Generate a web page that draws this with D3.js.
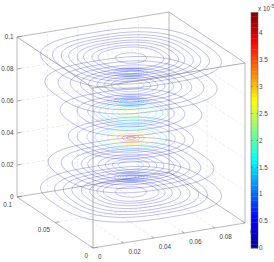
<!DOCTYPE html>
<html>
<head>
<meta charset="utf-8">
<script src="https://cdn.jsdelivr.net/npm/d3@7"></script>
<style>
	html, body { margin: 0; padding: 0; background: #fff; overflow: hidden; }
	text { font-family: "Liberation Sans", Arial, sans-serif; font-size: 6.3px; fill: #444; }
</style>
</head>
<body>
<div id="chart"></div>
<script>
const xTicks = [0, 0.02, 0.04, 0.06, 0.08, 0.1];
const yTicks = [0, 0.05, 0.1];
const zTicks = [0, 0.02, 0.04, 0.06, 0.08, 0.1];
const barTicks = [0, 0.5, 1, 1.5, 2, 2.5, 3, 3.5, 4];
const barMax = 4.38;

// contour slices, bottom to top
const sliceZ = [0.0113, 0.028, 0.045, 0.061, 0.078, 0.095];
const sliceRadii = [
	[0.0497, 0.0423, 0.0377, 0.0331, 0.028, 0.0234, 0.0194, 0.016, 0.0091],
	[0.0457, 0.0388, 0.033, 0.028, 0.0245, 0.0188, 0.0148, 0.0108, 0.0074],
	[0.035, 0.0303, 0.025, 0.0205, 0.017, 0.0136, 0.011, 0.008, 0.005, 0.0026],
	[0.0394, 0.0303, 0.0245, 0.0211, 0.0182, 0.0148, 0.0108, 0.008, 0.0045],
	[0.0474, 0.0405, 0.034, 0.0285, 0.024, 0.0194, 0.0154, 0.0114, 0.0074],
	[0.0497, 0.0434, 0.0388, 0.0348, 0.0303, 0.0268, 0.0222, 0.0188, 0.0091]
];
// values in units of 1e-5
const sliceValues = [
	[0.1, 0.15, 0.2, 0.25, 0.3, 0.35, 0.4, 0.45, 0.5],
	[0.1, 0.2, 0.3, 0.4, 0.5, 0.6, 0.7, 0.8, 1],
	[0.3, 0.6, 0.9, 1.3, 1.8, 2.3, 2.8, 3.2, 3.6, 4],
	[0.2, 0.4, 0.7, 1, 1.3, 1.6, 1.9, 2.2, 2.5],
	[0.1, 0.2, 0.3, 0.4, 0.5, 0.6, 0.7, 0.8, 1],
	[0.1, 0.15, 0.2, 0.25, 0.3, 0.35, 0.4, 0.45, 0.5]
];

// tight little clusters between the main slices
const clusterZ = [0.0206, 0.068, 0.086];
const clusterRadii = [0.0095, 0.0075, 0.006, 0.0045, 0.003];
const clusterValues = [0.8, 0.9, 0.8];

const jetStops = [0, 0.125, 0.375, 0.625, 0.875, 1];
const jetColors = ["#00008f", "#0000ff", "#00ffff", "#ffff00", "#ff0000", "#800000"];

whenDocumentLoaded(() => {
	const width = 274, height = 262;
	const svg = d3.select("#chart").append("svg")
		.attr("width", width)
		.attr("height", height)
		.style("display", "block");

	// orthographic view: each data axis moves the point both across and down the screen
	const originX = 93, originY = 248;
	const xAcross = d3.scaleLinear().domain([0, 0.1]).range([0, 152]),
		xDown = d3.scaleLinear().domain([0, 0.1]).range([0, -25]),
		yAcross = d3.scaleLinear().domain([0, 0.1]).range([0, -76]),
		yDown = d3.scaleLinear().domain([0, 0.1]).range([0, -51]),
		zDown = d3.scaleLinear().domain([0, 0.1]).range([0, -160]);

	function project(x, y, z) {
		return [originX + xAcross(x) + yAcross(y), originY + xDown(x) + yDown(y) + zDown(z)];
	}

	const color = d3.scaleLinear()
		.domain(jetStops.map(d => d * barMax))
		.range(jetColors);

	const line3d = d3.line();

	function edge(g, a, b) {
		return g.append("path")
			.attr("d", line3d([project(a[0], a[1], a[2]), project(b[0], b[1], b[2])]))
			.attr("fill", "none");
	}

	// grid on the two back walls and the floor
	const grid = svg.append("g")
		.attr("stroke", "#e2e2e2")
		.attr("stroke-width", 0.7)
		.attr("stroke-dasharray", "3,2");
	zTicks.slice(1, -1).forEach(z => {
		edge(grid, [0, 0.1, z], [0.1, 0.1, z]);
		edge(grid, [0.1, 0.1, z], [0.1, 0, z]);
	});
	xTicks.slice(1, -1).forEach(x => {
		edge(grid, [x, 0.1, 0], [x, 0.1, 0.1]);
		edge(grid, [x, 0, 0], [x, 0.1, 0]);
	});
	yTicks.slice(1, -1).forEach(y => {
		edge(grid, [0.1, y, 0], [0.1, y, 0.1]);
		edge(grid, [0, y, 0], [0.1, y, 0]);
	});

	// box, drawn behind the rings
	const box = svg.append("g")
		.attr("stroke", "#a8a8a8")
		.attr("stroke-width", 0.8);
	[
		[[0, 0.1, 0], [0.1, 0.1, 0]], [[0.1, 0.1, 0], [0.1, 0, 0]],
		[[0.1, 0, 0], [0, 0, 0]], [[0, 0, 0], [0, 0.1, 0]],
		[[0, 0.1, 0.1], [0.1, 0.1, 0.1]], [[0.1, 0.1, 0.1], [0.1, 0, 0.1]],
		[[0, 0.1, 0], [0, 0.1, 0.1]], [[0.1, 0.1, 0], [0.1, 0.1, 0.1]],
		[[0.1, 0, 0], [0.1, 0, 0.1]]
	].forEach(d => edge(box, d[0], d[1]));

	drawRings(svg, project, color);

	// front edges sit over the rings
	const front = svg.append("g")
		.attr("stroke", "#999")
		.attr("stroke-width", 0.8);
	edge(front, [0, 0, 0], [0, 0, 0.1]);
	edge(front, [0, 0, 0.1], [0.1, 0, 0.1]);
	edge(front, [0, 0, 0.1], [0, 0.1, 0.1]);

	drawAxisTicks(svg, project);
	drawColorbar(svg, color);
});

function whenDocumentLoaded(action) {
	if (document.readyState === "loading") {
		document.addEventListener("DOMContentLoaded", action);
	} else {
		action();
	}
}

function drawRings(svg, project, color) {
	const angles = d3.range(0, 2 * Math.PI, Math.PI / 60);
	const ring = d3.line().curve(d3.curveLinearClosed);

	function addRing(g, r, z, value, opacity) {
		// big rings go squarish, the small ones are round
		const power = 2 / (2 + r * 14);
		const points = angles.map(a => {
			const c = Math.cos(a), n = Math.sin(a);
			return project(
				0.05 + r * Math.sign(c) * Math.pow(Math.abs(c), power),
				0.05 + r * Math.sign(n) * Math.pow(Math.abs(n), power),
				z);
		});
		g.append("path")
			.attr("d", ring(points))
			.attr("fill", "none")
			.attr("stroke", color(value))
			.attr("stroke-width", 0.6)
			.attr("stroke-opacity", opacity);
	}

	sliceZ.forEach((z, s) => {
		const g = svg.append("g").attr("class", "slice");
		sliceRadii[s].forEach((r, i) => {
			// warm rings need more weight to read on white
			const v = sliceValues[s][i];
			addRing(g, r, z, v, v > 1.2 ? 0.55 : 0.42);
		});
	});
	clusterZ.forEach((z, s) => {
		const g = svg.append("g").attr("class", "cluster");
		clusterRadii.forEach(r => addRing(g, r, z, clusterValues[s], 0.3));
	});
}

function drawAxisTicks(svg, project) {
	const tickLine = d3.line();
	const ticks = svg.append("g")
		.attr("stroke", "#888")
		.attr("stroke-width", 0.7);
	const labels = svg.append("g");

	xTicks.forEach(x => {
		const p = project(x, 0, 0);
		ticks.append("path").attr("d", tickLine([p, project(x, 0.003, 0)]));
		labels.append("text")
			.attr("x", p[0] + 5)
			.attr("y", p[1] + 10.5)
			.text(x);
	});
	yTicks.forEach(y => {
		const p = project(0, y, 0);
		ticks.append("path").attr("d", tickLine([p, project(0.003, y, 0)]));
		labels.append("text")
			.attr("x", p[0] - 5)
			.attr("y", p[1] + 9.5)
			.attr("text-anchor", "end")
			.text(y);
	});
	zTicks.forEach(z => {
		const p = project(0, 0.1, z);
		ticks.append("path").attr("d", tickLine([p, project(0.003, 0.1, z)]));
		labels.append("text")
			.attr("x", p[0] - 3.5)
			.attr("y", p[1] + 1.5)
			.attr("text-anchor", "end")
			.text(z);
	});
}

function drawColorbar(svg, color) {
	const barLeft = 251, barWidth = 7;
	const barY = d3.scaleLinear().domain([0, barMax]).range([248, 12.5]);
	const bar = svg.append("g");
	const levels = d3.range(64).map(i => i / 64 * barMax);
	const step = barMax / 64;

	bar.selectAll("rect.level")
		.data(levels)
		.enter().append("rect")
		.attr("class", "level")
		.attr("x", barLeft)
		.attr("width", barWidth)
		.attr("y", d => barY(d + step))
		.attr("height", d => barY(d) - barY(d + step) + 0.3)
		.attr("fill", d => color(d + step / 2));

	bar.append("rect")
		.attr("x", barLeft)
		.attr("y", barY(barMax))
		.attr("width", barWidth)
		.attr("height", barY(0) - barY(barMax))
		.attr("fill", "none")
		.attr("stroke", "#555")
		.attr("stroke-width", 0.5);

	barTicks.forEach(v => {
		const y = barY(v);
		bar.append("path")
			.attr("d", d3.line()([[barLeft, y], [barLeft + 1.5, y]]))
			.attr("stroke", "#444").attr("stroke-width", 0.5);
		bar.append("path")
			.attr("d", d3.line()([[barLeft + barWidth - 1.5, y], [barLeft + barWidth, y]]))
			.attr("stroke", "#444").attr("stroke-width", 0.5);
		bar.append("text")
			.attr("x", barLeft + barWidth + 1)
			.attr("y", y + 2.2)
			.text(v);
	});

	const power = bar.append("text").attr("x", 258).attr("y", 10.5);
	power.append("tspan").text("x 10");
	power.append("tspan").attr("dy", -3).style("font-size", "4.5px").text("-5");
}
</script>
</body>
</html>
